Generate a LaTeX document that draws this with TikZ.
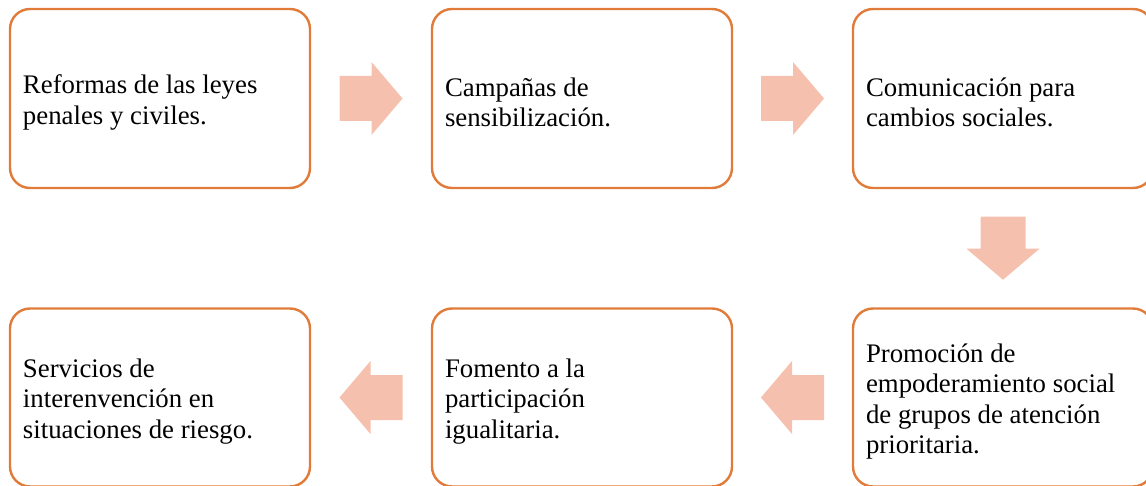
\documentclass[tikz,border=0pt]{standalone}
\usepackage{fontspec}
\setmainfont{Liberation Serif}
\usetikzlibrary{calc}
\definecolor{boxline}{HTML}{E07B39}
\definecolor{arrowfill}{HTML}{F5C0AD}
\tikzset{
  stagebox/.style={draw=boxline, line width=2.4pt, rounded corners=20pt, fill=white,
    minimum width=300pt, minimum height=179pt, inner xsep=13pt,
    font=\fontsize{26.8}{30.5}\selectfont, text=black},
  blockarrow/.style={fill=arrowfill, draw=none},
}
\newcommand{\boxtext}[1]{\raisebox{-4pt}[\height][\depth]{\parbox{274pt}{\raggedright #1}}}
\newcommand{\blockarr}[2]{%
  \begin{scope}[shift={(#1)}, rotate=#2]
    \fill[blockarrow] (-31.5,-22.5) -- (0.5,-22.5) -- (0.5,-36.5) -- (31.5,0) -- (0.5,36.5) -- (0.5,22.5) -- (-31.5,22.5) -- cycle;
  \end{scope}}
\begin{document}
\begin{tikzpicture}[x=1pt,y=1pt]
\path[use as bounding box] (0,0) rectangle (1146,-486);
\clip (0,0) rectangle (1146,-486);
\node[stagebox] (b1) at (160,-98.5) {\boxtext{Reformas de las leyes\\penales y civiles.}};
\node[stagebox] (b2) at (582,-98.5) {\boxtext{Campañas de\\sensibilización.}};
\node[stagebox] (b3) at (1003,-98.5) {\boxtext{Comunicación para\\cambios sociales.}};
\node[stagebox, minimum height=178pt] (b4) at (1003,-397.5) {\boxtext{Promoción de\\empoderamiento social\\de grupos de atención\\prioritaria.}};
\node[stagebox, minimum height=178pt] (b5) at (582,-397.5) {\boxtext{Fomento a la\\participación\\igualitaria.}};
\node[stagebox, minimum height=178pt] (b6) at (160,-397.5) {\boxtext{Servicios de\\interenvención en\\situaciones de riesgo.}};
\coordinate (a12) at ($(b1.east)!0.5!(b2.west)$);
\coordinate (a23) at ($(b2.east)!0.5!(b3.west)$);
\coordinate (a34) at ($(b3.south)!0.5!(b4.north)$);
\coordinate (a45) at ($(b4.west)!0.5!(b5.east)$);
\coordinate (a56) at ($(b5.west)!0.5!(b6.east)$);
\blockarr{a12}{0}
\blockarr{a23}{0}
\blockarr{a34}{-90}
\blockarr{a45}{180}
\blockarr{a56}{180}
\end{tikzpicture}
\end{document}
